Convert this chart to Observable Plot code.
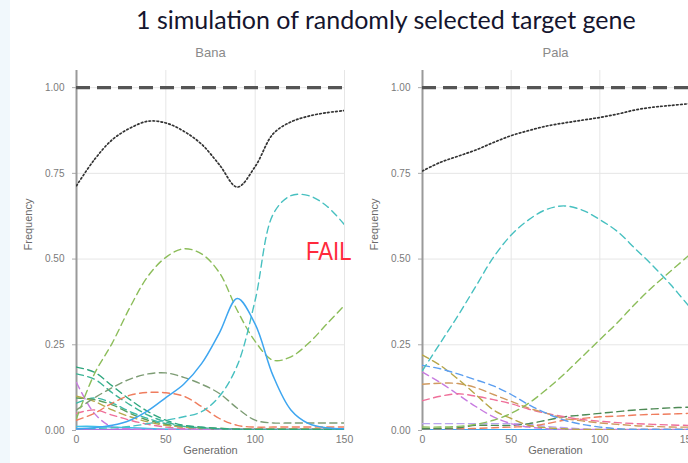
<!DOCTYPE html>
<html><head><meta charset="utf-8">
<script src="https://cdn.jsdelivr.net/npm/d3@7"></script>
<script src="https://cdn.jsdelivr.net/npm/@observablehq/plot@0.6"></script>
<style>
html,body{margin:0;padding:0;background:#fff;}
#wrap{position:relative;width:688px;height:463px;overflow:hidden;background:#fff;}
#strip{position:absolute;left:0;top:0;width:10px;height:463px;background:#f1f8fc;}
#title{position:absolute;top:7px;left:136px;white-space:nowrap;font-family:Lato,"Open Sans",sans-serif;font-size:25px;color:#15152e;line-height:25px;}
#fail{position:absolute;left:306px;top:238px;font-family:"Liberation Sans",Arial,sans-serif;font-size:26px;line-height:26px;color:#ff2a3c;transform:scaleX(0.85);transform-origin:left top;}
.panel{position:absolute;top:0;width:346px;height:463px;}
.panel svg{font-family:"Liberation Sans",Arial,sans-serif;max-width:none !important;}
</style></head>
<body>
<div id="wrap">
  <div id="strip"></div>
  <div id="title">1 simulation of randomly selected target gene</div>
  <div class="panel" id="p1" style="left:0px"></div>
  <div class="panel" id="p2" style="left:346px"></div>
  <div id="fail">FAIL</div>
</div>
<script>
// ---- data ----
const gens = [0,10,20,30,40,50,60,70,80,90,100,110,120,130,140,150];
const panels = ["Bana", "Pala"];
const yTicks = [0, 0.25, 0.5, 0.75, 1.0];
const xTicks = [0, 50, 100, 150];
const fixedLevel = [1.0];

// Bana
const bana_total     = [0.714,0.79,0.848,0.882,0.902,0.897,0.873,0.835,0.775,0.71,0.77,0.865,0.9,0.917,0.927,0.933];
const bana_blue      = [0.005,0.008,0.015,0.03,0.058,0.096,0.135,0.195,0.285,0.385,0.31,0.16,0.06,0.02,0.008,0.005];
const bana_teal      = [0.005,0.006,0.008,0.012,0.02,0.03,0.04,0.055,0.1,0.19,0.38,0.63,0.685,0.685,0.655,0.6];
const bana_green     = [0.035,0.165,0.255,0.36,0.45,0.505,0.53,0.515,0.46,0.35,0.26,0.205,0.215,0.255,0.31,0.365];
const bana_sage      = [0.06,0.095,0.125,0.15,0.165,0.168,0.155,0.135,0.108,0.065,0.03,0.022,0.022,0.022,0.022,0.022];
const bana_red       = [0.03,0.05,0.08,0.103,0.111,0.11,0.1,0.07,0.035,0.015,0.01,0.01,0.01,0.01,0.01,0.01];
const bana_jade1     = [0.185,0.17,0.13,0.09,0.055,0.03,0.015,0.01,0.006,0.004,0.003,0.003,0.003,0.003,0.003,0.003];
const bana_jade2     = [0.165,0.15,0.11,0.075,0.045,0.025,0.012,0.008,0.005,0.004,0.003,0.003,0.003,0.003,0.003,0.003];
const bana_purple    = [0.14,0.05,0.01,0.005,0.003,0.003,0.003,0.003,0.003,0.003,0.003,0.003,0.003,0.003,0.003,0.003];
const bana_olive     = [0.1,0.085,0.06,0.04,0.025,0.015,0.01,0.008,0.006,0.005,0.005,0.005,0.005,0.005,0.005,0.005];
const bana_green2    = [0.095,0.09,0.075,0.05,0.03,0.018,0.01,0.007,0.005,0.004,0.004,0.004,0.004,0.004,0.004,0.004];
const bana_teal2     = [0.08,0.095,0.08,0.055,0.035,0.02,0.012,0.008,0.006,0.005,0.005,0.005,0.005,0.005,0.005,0.005];
const bana_pink      = [0.05,0.06,0.045,0.03,0.018,0.01,0.006,0.004,0.003,0.003,0.003,0.003,0.003,0.003,0.003,0.003];
const bana_skyline   = [0.012,0.012,0.01,0.008,0.006,0.004,0.003,0.002,0.002,0.002,0.002,0.002,0.002,0.002,0.002,0.002];
const bana_violet    = [0.003,0.003,0.003,0.003,0.003,0.003,0.003,0.003,0.003,0.003,0.003,0.003,0.003,0.003,0.003,0.003];

// Pala
const pala_total     = [0.757,0.782,0.8,0.818,0.84,0.86,0.875,0.888,0.897,0.905,0.913,0.923,0.935,0.943,0.948,0.953];
const pala_teal      = [0.175,0.255,0.335,0.42,0.505,0.57,0.615,0.645,0.655,0.643,0.615,0.58,0.53,0.48,0.425,0.364];
const pala_green     = [0.01,0.01,0.012,0.018,0.03,0.05,0.08,0.12,0.165,0.215,0.265,0.315,0.37,0.42,0.465,0.51];
const pala_blue      = [0.19,0.18,0.165,0.148,0.13,0.105,0.075,0.05,0.03,0.018,0.01,0.005,0.003,0.003,0.003,0.003];
const pala_olive     = [0.22,0.19,0.15,0.105,0.06,0.035,0.015,0.008,0.005,0.003,0.003,0.003,0.003,0.003,0.003,0.003];
const pala_tan       = [0.135,0.138,0.137,0.125,0.105,0.085,0.065,0.05,0.035,0.028,0.022,0.018,0.014,0.012,0.01,0.01];
const pala_pink      = [0.087,0.1,0.107,0.1,0.09,0.078,0.062,0.05,0.04,0.032,0.027,0.023,0.02,0.018,0.016,0.015];
const pala_purple    = [0.17,0.14,0.105,0.07,0.04,0.02,0.01,0.005,0.003,0.003,0.003,0.003,0.003,0.003,0.003,0.003];
const pala_lavender  = [0.02,0.02,0.02,0.02,0.02,0.02,0.018,0.012,0.008,0.005,0.003,0.003,0.003,0.003,0.003,0.003];
const pala_darkgreen = [0.005,0.006,0.008,0.015,0.015,0.015,0.02,0.03,0.04,0.045,0.05,0.055,0.06,0.063,0.066,0.068];
const pala_salmon    = [0.005,0.005,0.005,0.006,0.008,0.01,0.012,0.02,0.03,0.035,0.04,0.042,0.045,0.047,0.048,0.05];
const pala_bluesolid = [0.002,0.002,0.002,0.002,0.002,0.002,0.002,0.002,0.002,0.002,0.002,0.002,0.002,0.002,0.002,0.002];

// ---- styles (kept apart from data) ----
const seriesBana = [
  ["violet", bana_violet, "#b070e0", "solid"],
  ["skyline", bana_skyline, "#3fc0e8", "solid"],
  ["pink", bana_pink, "#ef6f9a", "dash"],
  ["teal2", bana_teal2, "#3cb9a8", "dash"],
  ["green2", bana_green2, "#5aa060", "dash"],
  ["olive", bana_olive, "#b5a94b", "dash"],
  ["purple", bana_purple, "#c77be0", "dash"],
  ["jade2", bana_jade2, "#3cb496", "dash"],
  ["jade1", bana_jade1, "#2fa67e", "dash"],
  ["red", bana_red, "#ef7d5e", "dash"],
  ["sage", bana_sage, "#7d9c74", "dash"],
  ["green", bana_green, "#8cbd5a", "dash"],
  ["teal", bana_teal, "#47c0c0", "dash"],
  ["blue", bana_blue, "#3ea6f0", "solid"],
  ["total", bana_total, "#333333", "dot"]
];
const seriesPala = [
  ["bluesolid", pala_bluesolid, "#3ea6f0", "solid"],
  ["lavender", pala_lavender, "#b9a3f0", "dash"],
  ["salmon", pala_salmon, "#ef7d5e", "dash"],
  ["darkgreen", pala_darkgreen, "#4e8a55", "dash"],
  ["purple", pala_purple, "#c77be0", "dash"],
  ["pink", pala_pink, "#ef6f9a", "dash"],
  ["tan", pala_tan, "#d09a60", "dash"],
  ["olive", pala_olive, "#b8a648", "dash"],
  ["blue", pala_blue, "#5b9ef0", "dash"],
  ["green", pala_green, "#8cbd5a", "dash"],
  ["teal", pala_teal, "#47c0c0", "dash"],
  ["total", pala_total, "#333333", "dot"]
];
const lineStyle = {
  solid: {strokeWidth: 1.5},
  dash: {strokeWidth: 1.4, strokeDasharray: "7,4.5"},
  dot: {strokeWidth: 1.7, strokeDasharray: "1.6,2.4"}
};

function rowsOf(values, name) {
  return gens.map((g, i) => ({series: name, gen: g, value: values[i]}));
}

function panel(title, seriesList, marginRight) {
  const marks = [
    Plot.gridY(yTicks.slice(1), {stroke: "#e6e6e6", strokeOpacity: 1, strokeWidth: 1}),
    Plot.gridX(xTicks.slice(1), {stroke: "#e6e6e6", strokeOpacity: 1, strokeWidth: 1}),
    Plot.axisY({ticks: yTicks, tickFormat: d3.format(".2f"), tickSize: 4, tickPadding: 8,
      fontSize: 10, fill: "#7a7a7a", stroke: "#aaa", label: null}),
    Plot.axisX({ticks: xTicks, tickSize: 0, tickPadding: 5, fontSize: 10.5, fill: "#7a7a7a", label: null}),
    Plot.ruleX([0], {stroke: "#9a9a9a", strokeWidth: 2}),
    Plot.ruleY(fixedLevel, {stroke: "#555", strokeWidth: 3.2, strokeDasharray: "14,7"})
  ];
  for (const [name, values, color, type] of seriesList) {
    marks.push(Plot.line(rowsOf(values, name), {
      x: "gen", y: "value", stroke: color, curve: "catmull-rom", clip: true, ...lineStyle[type]
    }));
  }
  marks.push(
    Plot.text([title], {frameAnchor: "top", dy: -23, fontSize: 13, fill: "#8a8a8a"}),
    Plot.text(["Frequency"], {frameAnchor: "left", dx: -48, rotate: -90, fontSize: 11, fill: "#6a6a6a"}),
    Plot.text(["Generation"], {frameAnchor: "bottom", dy: 23, fontSize: 11, fill: "#6a6a6a"})
  );
  return Plot.plot({
    width: 346, height: 463,
    marginLeft: 76, marginRight, marginTop: 70, marginBottom: 33,
    x: {domain: [0, 150]},
    y: {domain: [0, 1.05]},
    style: {background: "transparent", overflow: "visible", maxWidth: "none"},
    marks
  });
}

document.getElementById("p1").append(panel(panels[0], seriesBana, 2));
document.getElementById("p2").append(panel(panels[1], seriesPala, 4));
</script>
</body></html>
